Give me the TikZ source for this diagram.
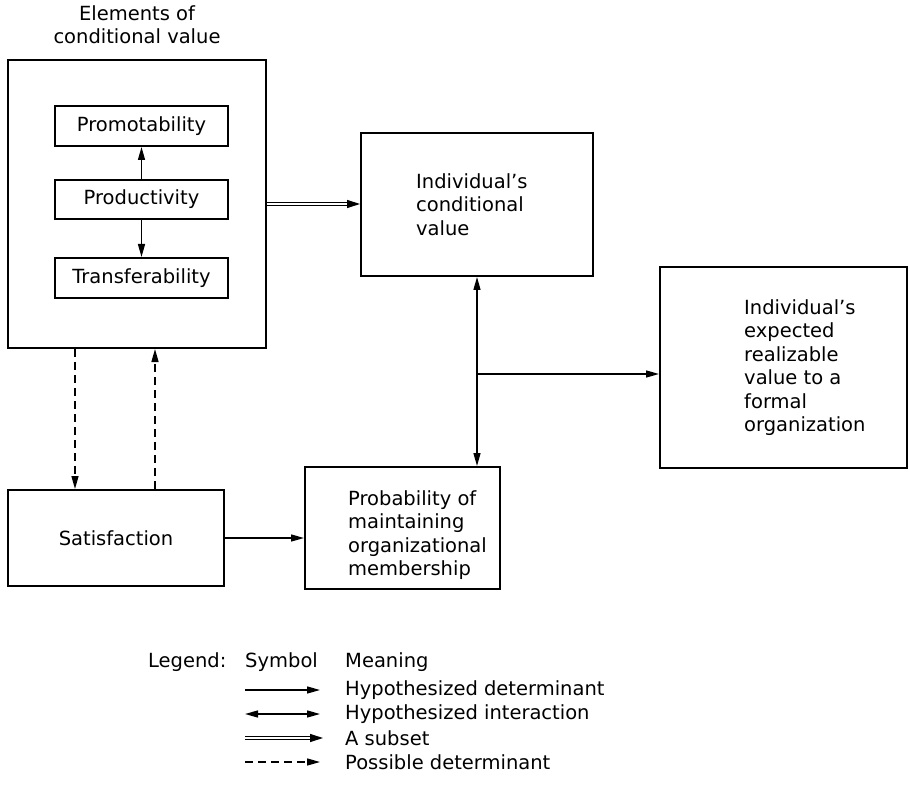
\documentclass[tikz,border=0pt]{standalone}
\usepackage{fontspec}
\setmainfont{DejaVu Sans}
\usetikzlibrary{positioning,arrows.meta}

\begin{document}
\begin{tikzpicture}[x=1pt,y=-1pt,
	every node/.style={font=\fontsize{19.5}{23.5}\selectfont},
	box/.style={draw,line width=2pt,inner sep=0pt},
	txt/.style={align=left,inner sep=0pt},
	det/.style={line width=1.4pt,-{Triangle[length=13pt,width=7pt]}},
	inter/.style={line width=1.4pt,{Triangle[length=13pt,width=7pt]}-{Triangle[length=13pt,width=7pt]}},
	subset/.style={double,double distance=2.5pt,line width=1.2pt,-{Triangle[length=13pt,width=8pt]}},
	poss/.style={det,dash pattern=on 8pt off 5pt},
]
\useasboundingbox (0,0) rectangle (910,794);

% elements of conditional value
\node[box,minimum width=258pt,minimum height=288pt] (elem) at (137,204) {};
\node[align=center,inner sep=0pt,above=15pt of elem] (elemlbl) {Elements of\\conditional value};
\node[box,minimum width=173pt,minimum height=40pt] (promo) at (141.5,126) {Promotability};
\node[box,minimum width=173pt,minimum height=39pt] (produ) at (141.5,199.5) {Productivity};
\node[box,minimum width=173pt,minimum height=40pt] (trans) at (141.5,278) {Transferability};

% value boxes
\node[box,minimum width=232pt,minimum height=143pt] (cond) at (477,204.5) {};
\node[txt,right=56pt of cond.west] (condtxt) {Individual's\\conditional\\value};
\node[box,minimum width=247pt,minimum height=201pt] (expect) at (783.5,367.5) {};
\node[txt,right=85pt of expect.west] (expecttxt) {Individual's\\expected\\realizable\\value to a\\formal\\organization};
\node[box,minimum width=195pt,minimum height=122pt] (prob) at (402.5,528) {};
\node[txt,right=44pt of prob.west,yshift=-7pt] (probtxt) {Probability of\\maintaining\\organizational\\membership};
\node[box,minimum width=216pt,minimum height=96pt] (satis) at (116,538) {Satisfaction};

% connectors
\draw[det] (produ) -- (promo);
\draw[det] (produ) -- (trans);
\draw[subset] (elem.east) -- (elem.east -| cond.west);
\draw[inter] (cond.south) -- (cond.south |- prob.north);
\coordinate (jn) at ([yshift=-97pt]cond.south);
\draw[det] (jn) -- (jn -| expect.west);
\draw[det] (satis.east) -- (satis.east -| prob.west);
\draw[poss] ([xshift=-62pt]elem.south) -- ([xshift=-62pt]elem.south |- satis.north);
\draw[poss] ([xshift=18pt]elem.south |- satis.north) -- ([xshift=18pt]elem.south);

% legend
\node[anchor=west,inner sep=0pt] (leg) at (148,662) {Legend:};
\node[anchor=west,inner sep=0pt] (sym) at (245,662) {Symbol};
\node[anchor=west,inner sep=0pt] (mean) at (345,662) {Meaning};
\node[anchor=west,inner sep=0pt] (m1) at (345,690) {Hypothesized determinant};
\node[anchor=west,inner sep=0pt] (m2) at (345,714) {Hypothesized interaction};
\node[anchor=west,inner sep=0pt] (m3) at (345,738) {A subset};
\node[anchor=west,inner sep=0pt] (m4) at (345,762) {Possible determinant};
\draw[det] (sym.west |- m1.west) -- ([xshift=-25pt]m1.west);
\draw[inter] (sym.west |- m2.west) -- ([xshift=-25pt]m2.west);
\draw[subset] (sym.west |- m3.west) -- ([xshift=-22pt]m3.west);
\draw[poss] (sym.west |- m4.west) -- ([xshift=-25pt]m4.west);

\end{tikzpicture}
\end{document}
